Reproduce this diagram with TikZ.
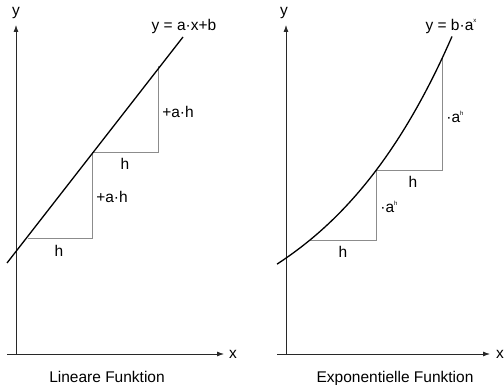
\documentclass[tikz,border=0pt]{standalone}
\usepackage{fontspec}
\setmainfont{Liberation Sans}
\usetikzlibrary{arrows.meta}
\definecolor{axisGray}{RGB}{40, 40, 40}
\definecolor{stepGray}{RGB}{140, 140, 140}
\newcommand{\mdot}{\textperiodcentered}
\newcommand{\hoch}[1]{\raisebox{0.9ex}{\fontsize{6}{6}\selectfont #1}}

\begin{document}
\begin{tikzpicture}[x=1pt, y=1pt, font=\fontsize{15.5}{17}\selectfont,
    axis/.style={thick, axisGray, -{Latex[length=7pt, width=5pt]}},
    stepline/.style={stepGray, line width=0.9pt},
    graphline/.style={line width=1.3pt, black}]
    \useasboundingbox (0,0) rectangle (504,385);
    % linear
    \draw[axis] (16,31) -- (16,360);
    \draw[axis] (7,31) -- (224,31);
    \node (xA) at (233,31) {x};
    \node (yA) at (16,372) {y};
    \draw[stepline] (28,147) -- (92,147) -- (92,233) -- (158,233) -- (158,319);
    \draw[graphline] (7,122) -- (183,348);
    \node (hA1) at (59,134) {h};
    \node (hA2) at (125,221) {h};
    \node (ahA1) at (112,188) {+a\mdot h};
    \node (ahA2) at (178,273) {+a\mdot h};
    \node (fA) at (184,359) {y = a\mdot x+b};
    \node[anchor=base] (tA) at (107,2.5) {Lineare Funktion};
    % exponential
    \draw[axis] (286,31) -- (286,360);
    \draw[axis] (277,31) -- (490,31);
    \node (xB) at (500,31) {x};
    \node (yB) at (284,372) {y};
    \draw[stepline] (310,145) -- (376,145) -- (376,214.5) -- (442,214.5) -- (442,326.5);
    \draw[graphline] plot[domain=277:452, samples=50, smooth] (\x, {31+114*pow(1.61,(\x-310)/66)});
    \node (hB1) at (343,133) {h};
    \node (hB2) at (413,203) {h};
    \node (ahB1) at (389,178) {\mdot a\hoch{h}};
    \node (ahB2) at (455,268) {\mdot a\hoch{h}};
    \node (fB) at (451,359) {y = b\mdot a\hoch{x}};
    \node[anchor=base] (tB) at (395,2.5) {Exponentielle Funktion};
\end{tikzpicture}
\end{document}
